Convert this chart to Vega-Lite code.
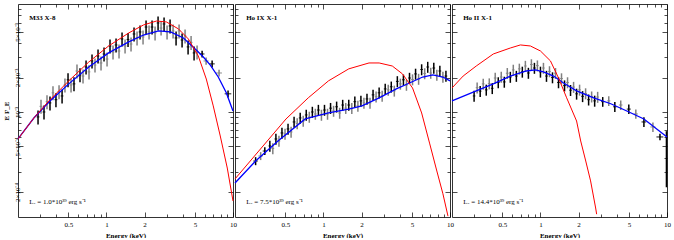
{
"$schema":"https://vega.github.io/schema/vega-lite/v6.json",
"padding":{"left":2,"top":3,"right":6,"bottom":0},
"background":"white",
"spacing":2,
"bounds":"flush",
"config":{"view":{"stroke":null},
"axis":{"grid":false,"domainColor":"#000","domainWidth":0.8,"tickColor":"#000","tickWidth":0.7,"labelFont":"Liberation Serif","labelFontSize":7,"labelColor":"#000","titleFont":"Liberation Serif","titleFontSize":7,"titleFontWeight":"bold","titleColor":"#000"},
"text":{"font":"Liberation Serif","color":"#000"}},
"datasets":{"d":[
{"p":"a","k":"pt","c":"k","e":0.288,"f":9.05e-4,"fe":1.27e-4,"ee":0.007},
{"p":"a","k":"pt","c":"g","e":0.304,"f":1.12e-3,"fe":1.57e-4,"ee":0.008},
{"p":"a","k":"pt","c":"k","e":0.321,"f":1.00e-3,"fe":1.40e-4,"ee":0.008},
{"p":"a","k":"pt","c":"g","e":0.339,"f":1.23e-3,"fe":1.72e-4,"ee":0.008},
{"p":"a","k":"pt","c":"k","e":0.358,"f":1.20e-3,"fe":1.68e-4,"ee":0.009},
{"p":"a","k":"pt","c":"g","e":0.378,"f":1.47e-3,"fe":2.06e-4,"ee":0.009},
{"p":"a","k":"pt","c":"k","e":0.399,"f":1.28e-3,"fe":1.79e-4,"ee":0.010},
{"p":"a","k":"pt","c":"g","e":0.422,"f":1.50e-3,"fe":2.10e-4,"ee":0.011},
{"p":"a","k":"pt","c":"k","e":0.446,"f":1.38e-3,"fe":1.93e-4,"ee":0.011},
{"p":"a","k":"pt","c":"g","e":0.470,"f":1.72e-3,"fe":2.41e-4,"ee":0.012},
{"p":"a","k":"pt","c":"k","e":0.497,"f":1.91e-3,"fe":2.67e-4,"ee":0.012},
{"p":"a","k":"pt","c":"g","e":0.525,"f":1.72e-3,"fe":2.41e-4,"ee":0.013},
{"p":"a","k":"pt","c":"k","e":0.554,"f":1.76e-3,"fe":2.46e-4,"ee":0.014},
{"p":"a","k":"pt","c":"g","e":0.585,"f":2.28e-3,"fe":3.19e-4,"ee":0.015},
{"p":"a","k":"pt","c":"k","e":0.618,"f":2.11e-3,"fe":2.95e-4,"ee":0.015},
{"p":"a","k":"pt","c":"g","e":0.653,"f":2.06e-3,"fe":2.88e-4,"ee":0.016},
{"p":"a","k":"pt","c":"k","e":0.690,"f":2.47e-3,"fe":3.46e-4,"ee":0.017},
{"p":"a","k":"pt","c":"g","e":0.728,"f":2.24e-3,"fe":3.14e-4,"ee":0.018},
{"p":"a","k":"pt","c":"k","e":0.769,"f":2.79e-3,"fe":3.91e-4,"ee":0.019},
{"p":"a","k":"pt","c":"g","e":0.812,"f":2.57e-3,"fe":3.60e-4,"ee":0.020},
{"p":"a","k":"pt","c":"k","e":0.858,"f":3.08e-3,"fe":4.31e-4,"ee":0.021},
{"p":"a","k":"pt","c":"g","e":0.906,"f":2.68e-3,"fe":3.75e-4,"ee":0.023},
{"p":"a","k":"pt","c":"k","e":0.957,"f":3.21e-3,"fe":4.49e-4,"ee":0.024},
{"p":"a","k":"pt","c":"g","e":1.011,"f":2.90e-3,"fe":4.06e-4,"ee":0.025},
{"p":"a","k":"pt","c":"k","e":1.067,"f":3.77e-3,"fe":5.28e-4,"ee":0.027},
{"p":"a","k":"pt","c":"g","e":1.127,"f":3.34e-3,"fe":4.68e-4,"ee":0.028},
{"p":"a","k":"pt","c":"k","e":1.191,"f":3.85e-3,"fe":5.39e-4,"ee":0.030},
{"p":"a","k":"pt","c":"g","e":1.257,"f":3.41e-3,"fe":4.77e-4,"ee":0.031},
{"p":"a","k":"pt","c":"k","e":1.328,"f":4.34e-3,"fe":6.08e-4,"ee":0.033},
{"p":"a","k":"pt","c":"g","e":1.403,"f":3.77e-3,"fe":5.28e-4,"ee":0.035},
{"p":"a","k":"pt","c":"k","e":1.481,"f":4.30e-3,"fe":6.02e-4,"ee":0.037},
{"p":"a","k":"pt","c":"g","e":1.564,"f":3.92e-3,"fe":5.49e-4,"ee":0.039},
{"p":"a","k":"pt","c":"k","e":1.652,"f":4.80e-3,"fe":6.72e-4,"ee":0.041},
{"p":"a","k":"pt","c":"g","e":1.745,"f":4.43e-3,"fe":6.20e-4,"ee":0.044},
{"p":"a","k":"pt","c":"k","e":1.843,"f":5.00e-3,"fe":7.00e-4,"ee":0.046},
{"p":"a","k":"pt","c":"g","e":1.946,"f":4.52e-3,"fe":6.33e-4,"ee":0.049},
{"p":"a","k":"pt","c":"k","e":2.056,"f":5.52e-3,"fe":7.73e-4,"ee":0.051},
{"p":"a","k":"pt","c":"g","e":2.171,"f":5.00e-3,"fe":7.00e-4,"ee":0.054},
{"p":"a","k":"pt","c":"k","e":2.293,"f":5.52e-3,"fe":7.73e-4,"ee":0.057},
{"p":"a","k":"pt","c":"g","e":2.422,"f":4.90e-3,"fe":6.86e-4,"ee":0.061},
{"p":"a","k":"pt","c":"k","e":2.558,"f":5.99e-3,"fe":8.39e-4,"ee":0.064},
{"p":"a","k":"pt","c":"g","e":2.702,"f":5.41e-3,"fe":7.57e-4,"ee":0.068},
{"p":"a","k":"pt","c":"k","e":2.853,"f":5.87e-3,"fe":8.22e-4,"ee":0.071},
{"p":"a","k":"pt","c":"g","e":3.013,"f":5.00e-3,"fe":7.00e-4,"ee":0.075},
{"p":"a","k":"pt","c":"k","e":3.182,"f":5.64e-3,"fe":7.90e-4,"ee":0.080},
{"p":"a","k":"pt","c":"g","e":3.361,"f":5.10e-3,"fe":7.14e-4,"ee":0.084},
{"p":"a","k":"pt","c":"k","e":3.549,"f":4.43e-3,"fe":6.20e-4,"ee":0.089},
{"p":"a","k":"pt","c":"g","e":3.749,"f":5.10e-3,"fe":7.14e-4,"ee":0.094},
{"p":"a","k":"pt","c":"k","e":3.959,"f":4.25e-3,"fe":5.95e-4,"ee":0.099},
{"p":"a","k":"pt","c":"g","e":4.181,"f":4.61e-3,"fe":6.45e-4,"ee":0.105},
{"p":"a","k":"pt","c":"k","e":4.416,"f":3.70e-3,"fe":5.18e-4,"ee":0.110},
{"p":"a","k":"pt","c":"g","e":4.664,"f":4.05e-3,"fe":5.67e-4,"ee":0.117},
{"p":"a","k":"pt","c":"k","e":4.925,"f":3.28e-3,"fe":4.59e-4,"ee":0.123},
{"p":"a","k":"pt","c":"g","e":5.201,"f":3.34e-3,"fe":4.68e-4,"ee":0.130},
{"p":"a","k":"pt","c":"k","e":5.70,"f":3.21e-3,"fe":2.2e-4,"ee":0.25},
{"p":"a","k":"pt","c":"g","e":6.13,"f":2.79e-3,"fe":2.0e-4,"ee":0.28},
{"p":"a","k":"pt","c":"k","e":6.84,"f":2.63e-3,"fe":1.8e-4,"ee":0.33},
{"p":"a","k":"pt","c":"g","e":7.76,"f":2.19e-3,"fe":1.5e-4,"ee":0.42},
{"p":"a","k":"pt","c":"k","e":9.14,"f":1.44e-3,"fe":1.0e-4,"ee":0.55},
{"p":"a","k":"b","e":0.2,"f":5.81e-4},{"p":"a","k":"b","e":0.267,"f":8.86e-4},{"p":"a","k":"b","e":0.351,"f":1.22e-3},{"p":"a","k":"b","e":0.504,"f":1.76e-3},{"p":"a","k":"b","e":0.725,"f":2.47e-3},{"p":"a","k":"b","e":1.04,"f":3.28e-3},{"p":"a","k":"b","e":1.50,"f":4.09e-3},{"p":"a","k":"b","e":1.96,"f":4.70e-3},{"p":"a","k":"b","e":2.58,"f":5.10e-3},{"p":"a","k":"b","e":3.21,"f":5.00e-3},{"p":"a","k":"b","e":4.06,"f":4.43e-3},{"p":"a","k":"b","e":5.32,"f":3.34e-3},{"p":"a","k":"b","e":5.83,"f":3.02e-3},{"p":"a","k":"b","e":6.62,"f":2.57e-3},{"p":"a","k":"b","e":7.65,"f":2.02e-3},{"p":"a","k":"b","e":8.85,"f":1.47e-3},{"p":"a","k":"b","e":10,"f":1.02e-3},
{"p":"a","k":"r","e":0.2,"f":5.81e-4},{"p":"a","k":"r","e":0.267,"f":8.86e-4},{"p":"a","k":"r","e":0.351,"f":1.25e-3},{"p":"a","k":"r","e":0.504,"f":1.87e-3},{"p":"a","k":"r","e":0.725,"f":2.73e-3},{"p":"a","k":"r","e":1.04,"f":3.77e-3},{"p":"a","k":"r","e":1.50,"f":4.90e-3},{"p":"a","k":"r","e":1.96,"f":5.75e-3},{"p":"a","k":"r","e":2.49,"f":6.23e-3},{"p":"a","k":"r","e":2.98,"f":6.11e-3},{"p":"a","k":"r","e":3.71,"f":5.31e-3},{"p":"a","k":"r","e":4.44,"f":4.34e-3},{"p":"a","k":"r","e":5.32,"f":3.08e-3},{"p":"a","k":"r","e":6.15,"f":1.94e-3},{"p":"a","k":"r","e":6.98,"f":1.13e-3},{"p":"a","k":"r","e":7.93,"f":6.17e-4},{"p":"a","k":"r","e":9.01,"f":3.24e-4},{"p":"a","k":"r","e":10,"f":1.67e-4},
{"p":"a","k":"t","e":0.245,"f":6.62e-3,"s":"M33 X-8"},
{"p":"a","k":"l","e":0.245,"f":1.64e-4,"s":"Lₓ = 1.0*10³⁹ erg s⁻¹"},
{"p":"b","k":"pt","c":"k","e":0.291,"f":3.73e-4,"fe":3.0e-5,"ee":0.012},
{"p":"b","k":"pt","c":"g","e":0.319,"f":4.13e-4,"fe":3.3e-5,"ee":0.013},
{"p":"b","k":"pt","c":"k","e":0.344,"f":4.56e-4,"fe":3.6e-5,"ee":0.013},
{"p":"b","k":"pt","c":"k","e":0.377,"f":5.05e-4,"fe":5.6e-5,"ee":0.009},
{"p":"b","k":"pt","c":"g","e":0.398,"f":4.80e-4,"fe":5.3e-5,"ee":0.010},
{"p":"b","k":"pt","c":"k","e":0.421,"f":5.81e-4,"fe":6.4e-5,"ee":0.011},
{"p":"b","k":"pt","c":"g","e":0.445,"f":5.58e-4,"fe":6.1e-5,"ee":0.011},
{"p":"b","k":"pt","c":"k","e":0.470,"f":6.56e-4,"fe":7.2e-5,"ee":0.012},
{"p":"b","k":"pt","c":"g","e":0.497,"f":6.43e-4,"fe":7.1e-5,"ee":0.012},
{"p":"b","k":"pt","c":"k","e":0.525,"f":7.11e-4,"fe":7.8e-5,"ee":0.013},
{"p":"b","k":"pt","c":"g","e":0.555,"f":6.69e-4,"fe":7.4e-5,"ee":0.014},
{"p":"b","k":"pt","c":"k","e":0.586,"f":8.18e-4,"fe":9.0e-5,"ee":0.015},
{"p":"b","k":"pt","c":"g","e":0.620,"f":7.94e-4,"fe":8.7e-5,"ee":0.016},
{"p":"b","k":"pt","c":"k","e":0.655,"f":8.87e-4,"fe":9.8e-5,"ee":0.016},
{"p":"b","k":"pt","c":"g","e":0.692,"f":8.34e-4,"fe":9.2e-5,"ee":0.017},
{"p":"b","k":"pt","c":"k","e":0.731,"f":9.42e-4,"fe":1.04e-4,"ee":0.018},
{"p":"b","k":"pt","c":"g","e":0.773,"f":9.05e-4,"fe":1.00e-4,"ee":0.019},
{"p":"b","k":"pt","c":"k","e":0.817,"f":1.00e-3,"fe":1.10e-4,"ee":0.020},
{"p":"b","k":"pt","c":"g","e":0.863,"f":9.61e-4,"fe":1.06e-4,"ee":0.022},
{"p":"b","k":"pt","c":"k","e":0.912,"f":1.04e-3,"fe":1.14e-4,"ee":0.023},
{"p":"b","k":"pt","c":"g","e":0.964,"f":9.42e-4,"fe":1.04e-4,"ee":0.024},
{"p":"b","k":"pt","c":"k","e":1.019,"f":1.04e-3,"fe":1.14e-4,"ee":0.025},
{"p":"b","k":"pt","c":"g","e":1.077,"f":9.61e-4,"fe":1.06e-4,"ee":0.027},
{"p":"b","k":"pt","c":"k","e":1.138,"f":1.08e-3,"fe":1.19e-4,"ee":0.028},
{"p":"b","k":"pt","c":"g","e":1.202,"f":1.02e-3,"fe":1.12e-4,"ee":0.030},
{"p":"b","k":"pt","c":"k","e":1.271,"f":1.11e-3,"fe":1.22e-4,"ee":0.032},
{"p":"b","k":"pt","c":"g","e":1.343,"f":9.80e-4,"fe":1.08e-4,"ee":0.034},
{"p":"b","k":"pt","c":"k","e":1.419,"f":1.15e-3,"fe":1.27e-4,"ee":0.035},
{"p":"b","k":"pt","c":"g","e":1.500,"f":1.08e-3,"fe":1.19e-4,"ee":0.038},
{"p":"b","k":"pt","c":"k","e":1.585,"f":1.15e-3,"fe":1.27e-4,"ee":0.040},
{"p":"b","k":"pt","c":"g","e":1.675,"f":1.08e-3,"fe":1.19e-4,"ee":0.042},
{"p":"b","k":"pt","c":"k","e":1.770,"f":1.23e-3,"fe":1.35e-4,"ee":0.044},
{"p":"b","k":"pt","c":"g","e":1.871,"f":1.13e-3,"fe":1.24e-4,"ee":0.047},
{"p":"b","k":"pt","c":"k","e":1.977,"f":1.25e-3,"fe":1.38e-4,"ee":0.049},
{"p":"b","k":"pt","c":"g","e":2.089,"f":1.20e-3,"fe":1.32e-4,"ee":0.052},
{"p":"b","k":"pt","c":"k","e":2.208,"f":1.30e-3,"fe":1.43e-4,"ee":0.055},
{"p":"b","k":"pt","c":"g","e":2.333,"f":1.20e-3,"fe":1.32e-4,"ee":0.058},
{"p":"b","k":"pt","c":"k","e":2.466,"f":1.41e-3,"fe":1.55e-4,"ee":0.062},
{"p":"b","k":"pt","c":"g","e":2.606,"f":1.36e-3,"fe":1.50e-4,"ee":0.065},
{"p":"b","k":"pt","c":"k","e":2.754,"f":1.47e-3,"fe":1.62e-4,"ee":0.069},
{"p":"b","k":"pt","c":"g","e":2.910,"f":1.38e-3,"fe":1.52e-4,"ee":0.073},
{"p":"b","k":"pt","c":"k","e":3.076,"f":1.59e-3,"fe":1.75e-4,"ee":0.077},
{"p":"b","k":"pt","c":"g","e":3.250,"f":1.56e-3,"fe":1.72e-4,"ee":0.081},
{"p":"b","k":"pt","c":"k","e":3.435,"f":1.66e-3,"fe":1.83e-4,"ee":0.086},
{"p":"b","k":"pt","c":"g","e":3.630,"f":1.53e-3,"fe":1.68e-4,"ee":0.091},
{"p":"b","k":"pt","c":"k","e":3.836,"f":1.85e-3,"fe":2.04e-4,"ee":0.096},
{"p":"b","k":"pt","c":"g","e":4.054,"f":1.76e-3,"fe":1.94e-4,"ee":0.101},
{"p":"b","k":"pt","c":"k","e":4.285,"f":1.91e-3,"fe":2.10e-4,"ee":0.107},
{"p":"b","k":"pt","c":"g","e":4.528,"f":1.72e-3,"fe":1.89e-4,"ee":0.113},
{"p":"b","k":"pt","c":"k","e":4.786,"f":1.98e-3,"fe":2.18e-4,"ee":0.120},
{"p":"b","k":"pt","c":"g","e":5.057,"f":1.92e-3,"fe":2.11e-4,"ee":0.126},
{"p":"b","k":"pt","c":"k","e":5.345,"f":2.15e-3,"fe":2.37e-4,"ee":0.134},
{"p":"b","k":"pt","c":"g","e":5.648,"f":1.94e-3,"fe":2.13e-4,"ee":0.141},
{"p":"b","k":"pt","c":"k","e":5.969,"f":2.35e-3,"fe":2.59e-4,"ee":0.149},
{"p":"b","k":"pt","c":"g","e":6.308,"f":2.17e-3,"fe":2.39e-4,"ee":0.158},
{"p":"b","k":"pt","c":"k","e":6.667,"f":2.47e-3,"fe":2.72e-4,"ee":0.167},
{"p":"b","k":"pt","c":"g","e":7.045,"f":2.19e-3,"fe":2.41e-4,"ee":0.176},
{"p":"b","k":"pt","c":"k","e":7.446,"f":2.42e-3,"fe":2.66e-4,"ee":0.186},
{"p":"b","k":"pt","c":"g","e":7.869,"f":2.11e-3,"fe":2.32e-4,"ee":0.197},
{"p":"b","k":"pt","c":"k","e":8.316,"f":2.28e-3,"fe":2.51e-4,"ee":0.208},
{"p":"b","k":"pt","c":"g","e":8.788,"f":2.02e-3,"fe":2.22e-4,"ee":0.220},
{"p":"b","k":"pt","c":"k","e":9.287,"f":2.06e-3,"fe":2.27e-4,"ee":0.232},
{"p":"b","k":"b","e":0.2,"f":2.40e-4},{"p":"b","k":"b","e":0.291,"f":3.73e-4},{"p":"b","k":"b","e":0.437,"f":5.58e-4},{"p":"b","k":"b","e":0.718,"f":8.69e-4},{"p":"b","k":"b","e":1.096,"f":9.80e-4},{"p":"b","k":"b","e":1.585,"f":1.06e-3},{"p":"b","k":"b","e":2.014,"f":1.13e-3},{"p":"b","k":"b","e":2.754,"f":1.33e-3},{"p":"b","k":"b","e":3.767,"f":1.59e-3},{"p":"b","k":"b","e":4.786,"f":1.79e-3},{"p":"b","k":"b","e":6.081,"f":2.02e-3},{"p":"b","k":"b","e":7.311,"f":2.11e-3},{"p":"b","k":"b","e":8.79,"f":2.02e-3},{"p":"b","k":"b","e":10,"f":1.87e-3},
{"p":"b","k":"r","e":0.2,"f":2.60e-4},{"p":"b","k":"r","e":0.506,"f":8.69e-4},{"p":"b","k":"r","e":0.759,"f":1.33e-3},{"p":"b","k":"r","e":1.096,"f":1.87e-3},{"p":"b","k":"r","e":1.585,"f":2.38e-3},{"p":"b","k":"r","e":2.291,"f":2.68e-3},{"p":"b","k":"r","e":2.754,"f":2.68e-3},{"p":"b","k":"r","e":3.50,"f":2.52e-3},{"p":"b","k":"r","e":4.21,"f":2.15e-3},{"p":"b","k":"r","e":5.06,"f":1.62e-3},{"p":"b","k":"r","e":5.97,"f":9.80e-4},{"p":"b","k":"r","e":6.92,"f":5.26e-4},{"p":"b","k":"r","e":7.87,"f":3.05e-4},{"p":"b","k":"r","e":8.79,"f":1.93e-4},{"p":"b","k":"r","e":9.64,"f":1.23e-4},
{"p":"b","k":"t","e":0.245,"f":6.62e-3,"s":"Ho IX X-1"},
{"p":"b","k":"l","e":0.245,"f":1.64e-4,"s":"Lₓ = 7.5*10³⁹ erg s⁻¹"},
{"p":"c","k":"pt","c":"k","e":0.299,"f":1.38e-3,"fe":1.52e-4,"ee":0.007},
{"p":"c","k":"pt","c":"g","e":0.316,"f":1.63e-3,"fe":1.79e-4,"ee":0.008},
{"p":"c","k":"pt","c":"k","e":0.334,"f":1.52e-3,"fe":1.67e-4,"ee":0.008},
{"p":"c","k":"pt","c":"g","e":0.353,"f":1.76e-3,"fe":1.94e-4,"ee":0.009},
{"p":"c","k":"pt","c":"k","e":0.373,"f":1.56e-3,"fe":1.72e-4,"ee":0.009},
{"p":"c","k":"pt","c":"g","e":0.394,"f":1.77e-3,"fe":1.95e-4,"ee":0.010},
{"p":"c","k":"pt","c":"k","e":0.416,"f":1.61e-3,"fe":1.77e-4,"ee":0.010},
{"p":"c","k":"pt","c":"g","e":0.439,"f":1.98e-3,"fe":2.18e-4,"ee":0.011},
{"p":"c","k":"pt","c":"k","e":0.464,"f":1.81e-3,"fe":1.99e-4,"ee":0.012},
{"p":"c","k":"pt","c":"g","e":0.490,"f":2.02e-3,"fe":2.22e-4,"ee":0.012},
{"p":"c","k":"pt","c":"k","e":0.518,"f":1.83e-3,"fe":2.01e-4,"ee":0.013},
{"p":"c","k":"pt","c":"g","e":0.547,"f":2.18e-3,"fe":2.40e-4,"ee":0.014},
{"p":"c","k":"pt","c":"k","e":0.578,"f":2.02e-3,"fe":2.22e-4,"ee":0.014},
{"p":"c","k":"pt","c":"g","e":0.610,"f":2.33e-3,"fe":2.56e-4,"ee":0.015},
{"p":"c","k":"pt","c":"k","e":0.645,"f":2.06e-3,"fe":2.27e-4,"ee":0.016},
{"p":"c","k":"pt","c":"g","e":0.681,"f":2.38e-3,"fe":2.62e-4,"ee":0.017},
{"p":"c","k":"pt","c":"k","e":0.719,"f":2.24e-3,"fe":2.46e-4,"ee":0.018},
{"p":"c","k":"pt","c":"g","e":0.760,"f":2.52e-3,"fe":2.77e-4,"ee":0.019},
{"p":"c","k":"pt","c":"k","e":0.803,"f":2.19e-3,"fe":2.41e-4,"ee":0.020},
{"p":"c","k":"pt","c":"g","e":0.848,"f":2.60e-3,"fe":2.86e-4,"ee":0.021},
{"p":"c","k":"pt","c":"k","e":0.896,"f":2.42e-3,"fe":2.66e-4,"ee":0.022},
{"p":"c","k":"pt","c":"g","e":0.946,"f":2.54e-3,"fe":2.79e-4,"ee":0.024},
{"p":"c","k":"pt","c":"k","e":1.000,"f":2.24e-3,"fe":2.46e-4,"ee":0.025},
{"p":"c","k":"pt","c":"g","e":1.056,"f":2.42e-3,"fe":2.66e-4,"ee":0.026},
{"p":"c","k":"pt","c":"k","e":1.116,"f":2.06e-3,"fe":2.27e-4,"ee":0.028},
{"p":"c","k":"pt","c":"g","e":1.179,"f":2.26e-3,"fe":2.49e-4,"ee":0.029},
{"p":"c","k":"pt","c":"k","e":1.245,"f":2.00e-3,"fe":2.20e-4,"ee":0.031},
{"p":"c","k":"pt","c":"g","e":1.315,"f":2.18e-3,"fe":2.40e-4,"ee":0.033},
{"p":"c","k":"pt","c":"k","e":1.389,"f":1.81e-3,"fe":1.99e-4,"ee":0.035},
{"p":"c","k":"pt","c":"g","e":1.467,"f":1.96e-3,"fe":2.16e-4,"ee":0.037},
{"p":"c","k":"pt","c":"k","e":1.550,"f":1.70e-3,"fe":1.87e-4,"ee":0.039},
{"p":"c","k":"pt","c":"g","e":1.637,"f":1.81e-3,"fe":1.99e-4,"ee":0.041},
{"p":"c","k":"pt","c":"k","e":1.729,"f":1.55e-3,"fe":1.71e-4,"ee":0.043},
{"p":"c","k":"pt","c":"g","e":1.827,"f":1.65e-3,"fe":1.82e-4,"ee":0.046},
{"p":"c","k":"pt","c":"k","e":1.930,"f":1.44e-3,"fe":1.58e-4,"ee":0.048},
{"p":"c","k":"pt","c":"g","e":2.038,"f":1.56e-3,"fe":1.72e-4,"ee":0.051},
{"p":"c","k":"pt","c":"k","e":2.153,"f":1.37e-3,"fe":1.51e-4,"ee":0.054},
{"p":"c","k":"pt","c":"g","e":2.274,"f":1.45e-3,"fe":1.60e-4,"ee":0.057},
{"p":"c","k":"pt","c":"k","e":2.402,"f":1.28e-3,"fe":1.41e-4,"ee":0.060},
{"p":"c","k":"pt","c":"g","e":2.538,"f":1.36e-3,"fe":1.50e-4,"ee":0.063},
{"p":"c","k":"pt","c":"k","e":2.681,"f":1.25e-3,"fe":1.38e-4,"ee":0.067},
{"p":"c","k":"pt","c":"g","e":2.832,"f":1.35e-3,"fe":1.49e-4,"ee":0.071},
{"p":"c","k":"pt","c":"k","e":3.105,"f":1.23e-3,"fe":1.2e-4,"ee":0.09},
{"p":"c","k":"pt","c":"g","e":3.465,"f":1.25e-3,"fe":1.2e-4,"ee":0.10},
{"p":"c","k":"pt","c":"k","e":3.87,"f":1.11e-3,"fe":1.1e-4,"ee":0.12},
{"p":"c","k":"pt","c":"g","e":4.31,"f":1.15e-3,"fe":1.1e-4,"ee":0.14},
{"p":"c","k":"pt","c":"k","e":4.99,"f":1.06e-3,"fe":1.0e-4,"ee":0.18},
{"p":"c","k":"pt","c":"g","e":5.67,"f":9.61e-4,"fe":9.0e-5,"ee":0.22},
{"p":"c","k":"pt","c":"k","e":6.57,"f":8.18e-4,"fe":8.0e-5,"ee":0.28},
{"p":"c","k":"pt","c":"g","e":7.74,"f":7.40e-4,"fe":7.0e-5,"ee":0.36},
{"p":"c","k":"pt","c":"k","e":8.80,"f":6.05e-4,"fe":4.0e-5,"ee":0.55},
{"p":"c","k":"pt","c":"k","e":9.90,"f":4.50e-4,"fe":2.3e-4,"ee":0.03},
{"p":"c","k":"b","e":0.2,"f":1.25e-3},{"p":"c","k":"b","e":0.311,"f":1.53e-3},{"p":"c","k":"b","e":0.424,"f":1.76e-3},{"p":"c","k":"b","e":0.578,"f":2.06e-3},{"p":"c","k":"b","e":0.774,"f":2.28e-3},{"p":"c","k":"b","e":0.913,"f":2.33e-3},{"p":"c","k":"b","e":1.056,"f":2.24e-3},{"p":"c","k":"b","e":1.268,"f":2.06e-3},{"p":"c","k":"b","e":1.522,"f":1.79e-3},{"p":"c","k":"b","e":1.93,"f":1.53e-3},{"p":"c","k":"b","e":2.634,"f":1.33e-3},{"p":"c","k":"b","e":3.594,"f":1.18e-3},{"p":"c","k":"b","e":4.815,"f":1.02e-3},{"p":"c","k":"b","e":6.57,"f":8.69e-4},{"p":"c","k":"b","e":10,"f":6.05e-4},
{"p":"c","k":"r","e":0.2,"f":1.62e-3},{"p":"c","k":"r","e":0.245,"f":2.06e-3},{"p":"c","k":"r","e":0.311,"f":2.52e-3},{"p":"c","k":"r","e":0.424,"f":3.21e-3},{"p":"c","k":"r","e":0.578,"f":3.62e-3},{"p":"c","k":"r","e":0.694,"f":3.85e-3},{"p":"c","k":"r","e":0.833,"f":3.77e-3},{"p":"c","k":"r","e":1.0,"f":3.41e-3},{"p":"c","k":"r","e":1.20,"f":2.79e-3},{"p":"c","k":"r","e":1.39,"f":1.98e-3},{"p":"c","k":"r","e":1.61,"f":1.33e-3},{"p":"c","k":"r","e":1.93,"f":8.34e-4},{"p":"c","k":"r","e":2.08,"f":5.58e-4},{"p":"c","k":"r","e":2.28,"f":3.73e-4},{"p":"c","k":"r","e":2.49,"f":2.50e-4},{"p":"c","k":"r","e":2.73,"f":1.45e-4},{"p":"c","k":"r","e":2.78,"f":1.28e-4},
{"p":"c","k":"t","e":0.245,"f":6.62e-3,"s":"Ho II X-1"},
{"p":"c","k":"l","e":0.245,"f":1.64e-4,"s":"Lₓ = 14.4*10³⁹ erg s⁻¹"}
]},
"hconcat":[
{"width":215,"height":213,"data":{"name":"d"},"transform":[{"filter":"datum.p=='a'"}],
"resolve":{"axis":{"x":"independent","y":"independent"}},
"layer":[
{"transform":[{"filter":"datum.k=='pt'"}],"mark":{"type":"errorbar","thickness":1.5},
"encoding":{"x":{"field":"e","type":"quantitative","scale":{"type":"log","domain":[0.2,10],"nice":false},
"axis":{"orient":"bottom","values":[0.3,0.4,0.5,0.6,0.7,0.8,0.9,1,2,3,4,5,6,7,8,9,10],"labelExpr":"(datum.value==0.5||datum.value==1||datum.value==2||datum.value==5||datum.value==10)?format(datum.value,''):''","tickSize":{"condition":{"test":"datum.value==0.5||datum.value==1||datum.value==2||datum.value==5||datum.value==10","value":-5},"value":-3},"labelPadding":8,"labelOverlap":false,"labelFlush":false,"title":"Energy (keV)","titlePadding":2}},
"y":{"field":"f","type":"quantitative","scale":{"type":"log","domain":[1.21e-4,8.77e-3],"nice":false},
"axis":{"orient":"left","values":[0.0002,0.0003,0.0004,0.0005,0.0006,0.0007,0.0008,0.0009,0.001,0.002,0.003,0.004,0.005,0.006,0.007,0.008],"labelExpr":"datum.value==0.0002?'2×10⁻⁴':datum.value==0.0005?'5×10⁻⁴':datum.value==0.001?'10⁻³':datum.value==0.002?'2×10⁻³':datum.value==0.005?'5×10⁻³':''","tickSize":{"condition":{"test":"datum.value==0.0002||datum.value==0.0005||datum.value==0.001||datum.value==0.002||datum.value==0.005","value":-5},"value":-3},"labelAngle":270,"labelAlign":"center","labelBaseline":"bottom","labelPadding":3,"labelOverlap":false,"labelFlush":false,"title":"E F_E","titlePadding":2}},
"yError":{"field":"fe"},
"color":{"field":"c","type":"nominal","scale":{"domain":["k","g"],"range":["#000000","#808080"]},"legend":null}}},
{"transform":[{"filter":"datum.k=='pt'"}],"mark":{"type":"errorbar","thickness":0.9},
"encoding":{"x":{"field":"e","type":"quantitative","scale":{"type":"log","domain":[0.2,10],"nice":false},
"axis":{"orient":"top","values":[0.3,0.4,0.5,0.6,0.7,0.8,0.9,1,2,3,4,5,6,7,8,9,10],"labels":false,"title":null,"tickSize":{"condition":{"test":"datum.value==0.5||datum.value==1||datum.value==2||datum.value==5||datum.value==10","value":-5},"value":-3}}},
"y":{"field":"f","type":"quantitative","scale":{"type":"log","domain":[1.21e-4,8.77e-3],"nice":false},
"axis":{"orient":"right","values":[0.0002,0.0003,0.0004,0.0005,0.0006,0.0007,0.0008,0.0009,0.001,0.002,0.003,0.004,0.005,0.006,0.007,0.008],"labels":false,"title":null,"tickSize":{"condition":{"test":"datum.value==0.0002||datum.value==0.0005||datum.value==0.001||datum.value==0.002||datum.value==0.005","value":-5},"value":-3}}},
"xError":{"field":"ee"},
"color":{"field":"c","type":"nominal","scale":{"domain":["k","g"],"range":["#000000","#808080"]},"legend":null}}},
{"transform":[{"filter":"datum.k=='b'"}],"mark":{"type":"line","color":"#0000ff","strokeWidth":1.3},"encoding":{"x":{"field":"e","type":"quantitative","axis":null},"y":{"field":"f","type":"quantitative","axis":null}}},
{"transform":[{"filter":"datum.k=='r'"}],"mark":{"type":"line","color":"#ff0000","strokeWidth":1},"encoding":{"x":{"field":"e","type":"quantitative","axis":null},"y":{"field":"f","type":"quantitative","axis":null}}},
{"transform":[{"filter":"datum.k=='t'"}],"mark":{"type":"text","align":"left","baseline":"middle","fontSize":7,"fontWeight":"bold"},"encoding":{"x":{"field":"e","type":"quantitative","axis":null},"y":{"field":"f","type":"quantitative","axis":null},"text":{"field":"s"}}},
{"transform":[{"filter":"datum.k=='l'"}],"mark":{"type":"text","align":"left","baseline":"middle","fontSize":7},"encoding":{"x":{"field":"e","type":"quantitative","axis":null},"y":{"field":"f","type":"quantitative","axis":null},"text":{"field":"s"}}}
]},
{"width":215,"height":213,"data":{"name":"d"},"transform":[{"filter":"datum.p=='b'"}],
"resolve":{"axis":{"x":"independent","y":"independent"}},
"layer":[
{"transform":[{"filter":"datum.k=='pt'"}],"mark":{"type":"errorbar","thickness":1.5},
"encoding":{"x":{"field":"e","type":"quantitative","scale":{"type":"log","domain":[0.2,10],"nice":false},
"axis":{"orient":"bottom","values":[0.3,0.4,0.5,0.6,0.7,0.8,0.9,1,2,3,4,5,6,7,8,9,10],"labelExpr":"(datum.value==0.5||datum.value==1||datum.value==2||datum.value==5||datum.value==10)?format(datum.value,''):''","tickSize":{"condition":{"test":"datum.value==0.5||datum.value==1||datum.value==2||datum.value==5||datum.value==10","value":-5},"value":-3},"labelPadding":8,"labelOverlap":false,"labelFlush":false,"title":"Energy (keV)","titlePadding":2}},
"y":{"field":"f","type":"quantitative","scale":{"type":"log","domain":[1.21e-4,8.77e-3],"nice":false},
"axis":{"orient":"left","values":[0.0002,0.0003,0.0004,0.0005,0.0006,0.0007,0.0008,0.0009,0.001,0.002,0.003,0.004,0.005,0.006,0.007,0.008],"labels":false,"title":null,"tickSize":{"condition":{"test":"datum.value==0.0002||datum.value==0.0005||datum.value==0.001||datum.value==0.002||datum.value==0.005","value":-5},"value":-3}}},
"yError":{"field":"fe"},
"color":{"field":"c","type":"nominal","scale":{"domain":["k","g"],"range":["#000000","#808080"]},"legend":null}}},
{"transform":[{"filter":"datum.k=='pt'"}],"mark":{"type":"errorbar","thickness":0.9},
"encoding":{"x":{"field":"e","type":"quantitative","scale":{"type":"log","domain":[0.2,10],"nice":false},
"axis":{"orient":"top","values":[0.3,0.4,0.5,0.6,0.7,0.8,0.9,1,2,3,4,5,6,7,8,9,10],"labels":false,"title":null,"tickSize":{"condition":{"test":"datum.value==0.5||datum.value==1||datum.value==2||datum.value==5||datum.value==10","value":-5},"value":-3}}},
"y":{"field":"f","type":"quantitative","scale":{"type":"log","domain":[1.21e-4,8.77e-3],"nice":false},
"axis":{"orient":"right","values":[0.0002,0.0003,0.0004,0.0005,0.0006,0.0007,0.0008,0.0009,0.001,0.002,0.003,0.004,0.005,0.006,0.007,0.008],"labels":false,"title":null,"tickSize":{"condition":{"test":"datum.value==0.0002||datum.value==0.0005||datum.value==0.001||datum.value==0.002||datum.value==0.005","value":-5},"value":-3}}},
"xError":{"field":"ee"},
"color":{"field":"c","type":"nominal","scale":{"domain":["k","g"],"range":["#000000","#808080"]},"legend":null}}},
{"transform":[{"filter":"datum.k=='b'"}],"mark":{"type":"line","color":"#0000ff","strokeWidth":1.3},"encoding":{"x":{"field":"e","type":"quantitative","axis":null},"y":{"field":"f","type":"quantitative","axis":null}}},
{"transform":[{"filter":"datum.k=='r'"}],"mark":{"type":"line","color":"#ff0000","strokeWidth":1},"encoding":{"x":{"field":"e","type":"quantitative","axis":null},"y":{"field":"f","type":"quantitative","axis":null}}},
{"transform":[{"filter":"datum.k=='t'"}],"mark":{"type":"text","align":"left","baseline":"middle","fontSize":7,"fontWeight":"bold"},"encoding":{"x":{"field":"e","type":"quantitative","axis":null},"y":{"field":"f","type":"quantitative","axis":null},"text":{"field":"s"}}},
{"transform":[{"filter":"datum.k=='l'"}],"mark":{"type":"text","align":"left","baseline":"middle","fontSize":7},"encoding":{"x":{"field":"e","type":"quantitative","axis":null},"y":{"field":"f","type":"quantitative","axis":null},"text":{"field":"s"}}}
]},
{"width":215,"height":213,"data":{"name":"d"},"transform":[{"filter":"datum.p=='c'"}],
"resolve":{"axis":{"x":"independent","y":"independent"}},
"layer":[
{"transform":[{"filter":"datum.k=='pt'"}],"mark":{"type":"errorbar","thickness":1.5},
"encoding":{"x":{"field":"e","type":"quantitative","scale":{"type":"log","domain":[0.2,10],"nice":false},
"axis":{"orient":"bottom","values":[0.3,0.4,0.5,0.6,0.7,0.8,0.9,1,2,3,4,5,6,7,8,9,10],"labelExpr":"(datum.value==0.5||datum.value==1||datum.value==2||datum.value==5||datum.value==10)?format(datum.value,''):''","tickSize":{"condition":{"test":"datum.value==0.5||datum.value==1||datum.value==2||datum.value==5||datum.value==10","value":-5},"value":-3},"labelPadding":8,"labelOverlap":false,"labelFlush":false,"title":"Energy (keV)","titlePadding":2}},
"y":{"field":"f","type":"quantitative","scale":{"type":"log","domain":[1.21e-4,8.77e-3],"nice":false},
"axis":{"orient":"left","values":[0.0002,0.0003,0.0004,0.0005,0.0006,0.0007,0.0008,0.0009,0.001,0.002,0.003,0.004,0.005,0.006,0.007,0.008],"labels":false,"title":null,"tickSize":{"condition":{"test":"datum.value==0.0002||datum.value==0.0005||datum.value==0.001||datum.value==0.002||datum.value==0.005","value":-5},"value":-3}}},
"yError":{"field":"fe"},
"color":{"field":"c","type":"nominal","scale":{"domain":["k","g"],"range":["#000000","#808080"]},"legend":null}}},
{"transform":[{"filter":"datum.k=='pt'"}],"mark":{"type":"errorbar","thickness":0.9},
"encoding":{"x":{"field":"e","type":"quantitative","scale":{"type":"log","domain":[0.2,10],"nice":false},
"axis":{"orient":"top","values":[0.3,0.4,0.5,0.6,0.7,0.8,0.9,1,2,3,4,5,6,7,8,9,10],"labels":false,"title":null,"tickSize":{"condition":{"test":"datum.value==0.5||datum.value==1||datum.value==2||datum.value==5||datum.value==10","value":-5},"value":-3}}},
"y":{"field":"f","type":"quantitative","scale":{"type":"log","domain":[1.21e-4,8.77e-3],"nice":false},
"axis":{"orient":"right","values":[0.0002,0.0003,0.0004,0.0005,0.0006,0.0007,0.0008,0.0009,0.001,0.002,0.003,0.004,0.005,0.006,0.007,0.008],"labels":false,"title":null,"tickSize":{"condition":{"test":"datum.value==0.0002||datum.value==0.0005||datum.value==0.001||datum.value==0.002||datum.value==0.005","value":-5},"value":-3}}},
"xError":{"field":"ee"},
"color":{"field":"c","type":"nominal","scale":{"domain":["k","g"],"range":["#000000","#808080"]},"legend":null}}},
{"transform":[{"filter":"datum.k=='b'"}],"mark":{"type":"line","color":"#0000ff","strokeWidth":1.3},"encoding":{"x":{"field":"e","type":"quantitative","axis":null},"y":{"field":"f","type":"quantitative","axis":null}}},
{"transform":[{"filter":"datum.k=='r'"}],"mark":{"type":"line","color":"#ff0000","strokeWidth":1},"encoding":{"x":{"field":"e","type":"quantitative","axis":null},"y":{"field":"f","type":"quantitative","axis":null}}},
{"transform":[{"filter":"datum.k=='t'"}],"mark":{"type":"text","align":"left","baseline":"middle","fontSize":7,"fontWeight":"bold"},"encoding":{"x":{"field":"e","type":"quantitative","axis":null},"y":{"field":"f","type":"quantitative","axis":null},"text":{"field":"s"}}},
{"transform":[{"filter":"datum.k=='l'"}],"mark":{"type":"text","align":"left","baseline":"middle","fontSize":7},"encoding":{"x":{"field":"e","type":"quantitative","axis":null},"y":{"field":"f","type":"quantitative","axis":null},"text":{"field":"s"}}}
]}
]
}
